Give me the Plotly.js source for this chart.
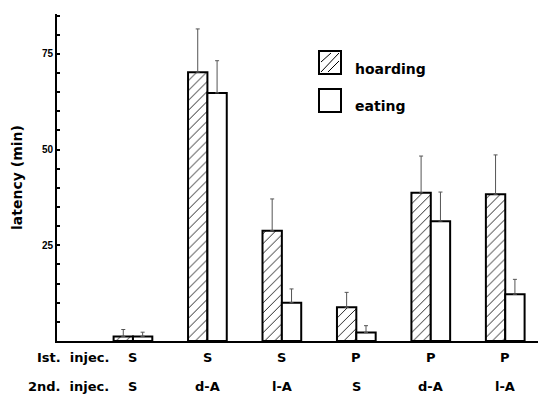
<!DOCTYPE html>
<html><head><meta charset="utf-8">
<script src="https://cdn.plot.ly/plotly-3.0.1.min.js"></script>
<style>html,body{margin:0;padding:0;background:#fff}#c{width:538px;height:397px}</style>
</head><body><div id="c"></div>
<script>
// ---- data ----
var firstInjection = ["S","S","S","P","P","P"];
var secondInjection = ["S","d-A","l-A","S","d-A","l-A"];
var hoarding = [1.2, 70.2, 28.8, 8.8, 38.7, 38.3];
var hoardingErr = [1.8, 11.3, 8.3, 3.9, 9.6, 10.3];
var eating = [1.2, 64.8, 10.0, 2.2, 31.3, 12.2];
var eatingErr = [1.1, 8.4, 3.6, 1.8, 7.6, 3.9];
var yTicks = [25, 50, 75];

var W = 538, H = 397, L = 57, R = 0, T = 14, B = 56;
function px(x){ return (x - L) / (W - L - R); }
function py(y){ return (H - B - y) / (H - T - B); }

var pos = firstInjection.map(function(_, i){ return i; });
var font = "Liberation Sans, Arial, sans-serif";
var wide = "DejaVu Sans, sans-serif";

var traces = [
  {type:'bar', name:'hoarding', x:pos, y:hoarding,
   marker:{color:'#fff', line:{color:'#000', width:2},
           pattern:{shape:'/', fgcolor:'#000', bgcolor:'#fff', size:7, solidity:0.12}},
   error_y:{type:'data', symmetric:false, array:hoardingErr, arrayminus:hoarding.map(function(){return 0;}),
            color:'#555', thickness:1, width:2}},
  {type:'bar', name:'eating', x:pos, y:eating,
   marker:{color:'#fff', line:{color:'#000', width:2}},
   error_y:{type:'data', symmetric:false, array:eatingErr, arrayminus:eating.map(function(){return 0;}),
            color:'#555', thickness:1, width:2}}
];

var shapes = [];
var annotations = [];
// legend boxes
var lx0 = 319, lx1 = 341;
var boxes = [[51,74],[89,112]];
boxes.forEach(function(b){
  shapes.push({type:'rect', xref:'paper', yref:'paper', x0:px(lx0), x1:px(lx1), y0:py(b[1]), y1:py(b[0]),
    line:{color:'#000', width:2}, fillcolor:'#fff'});
});
// hatch lines in first legend box
var hp = '';
[[lx0+2,62,lx0+12,53],[lx0+2,72,lx0+20,53],[lx0+9,72,lx0+20,61]].forEach(function(s){
  hp += 'M' + px(s[0]) + ',' + py(s[1]) + 'L' + px(s[2]) + ',' + py(s[3]);
});
shapes.push({type:'path', xref:'paper', yref:'paper', path:hp, line:{color:'#000', width:1}});

annotations.push({xref:'paper', yref:'paper', x:px(353), y:py(69), xanchor:'left', yanchor:'middle',
  text:'hoarding', showarrow:false, font:{family:wide, size:14, color:'#000', weight:'bold'}});
annotations.push({xref:'paper', yref:'paper', x:px(353), y:py(106), xanchor:'left', yanchor:'middle',
  text:'eating', showarrow:false, font:{family:wide, size:14, color:'#000', weight:'bold'}});

// category rows
var row1 = 357, row2 = 386;
annotations.push({xref:'paper', yref:'paper', x:px(111), y:py(row1), xanchor:'right', yanchor:'middle',
  text:'Ist.  injec.', showarrow:false, font:{family:wide, size:13, color:'#000', weight:'bold'}});
annotations.push({xref:'paper', yref:'paper', x:px(111), y:py(row2), xanchor:'right', yanchor:'middle',
  text:'2nd.  injec.', showarrow:false, font:{family:wide, size:13, color:'#000', weight:'bold'}});
pos.forEach(function(p, i){
  annotations.push({xref:'x', yref:'paper', x:p, y:py(row1), xanchor:'center', yanchor:'middle',
    text:firstInjection[i], showarrow:false, font:{family:wide, size:13, color:'#000', weight:'bold'}});
  annotations.push({xref:'x', yref:'paper', x:p, y:py(row2), xanchor:'center', yanchor:'middle',
    text:secondInjection[i], showarrow:false, font:{family:wide, size:13, color:'#000', weight:'bold'}});
});

var layout = {
  width:W, height:H, margin:{l:L, r:R, t:T, b:B},
  paper_bgcolor:'#fff', plot_bgcolor:'#fff',
  showlegend:false, barmode:'group', bargap:0.48, bargroupgap:0,
  xaxis:{range:[-1.02, 5.44], showline:true, linecolor:'#000', linewidth:2, showgrid:false,
         zeroline:false, showticklabels:false, ticks:''},
  yaxis:{range:[0, 85.4], showline:true, linecolor:'#000', linewidth:2, showgrid:false, zeroline:false,
         tickmode:'array', tickvals:yTicks, ticktext:yTicks.map(String), ticks:'inside', ticklen:3,
         tickwidth:2, tickcolor:'#000',
         minor:{dtick:5, tick0:0, ticks:'inside', ticklen:3, tickwidth:2, tickcolor:'#000'},
         tickfont:{family:font, size:10, color:'#000', weight:'bold'},
         title:{text:'latency (min)', standoff:16, font:{family:wide, size:14, color:'#000', weight:'bold'}},
         automargin:false},
  shapes:shapes, annotations:annotations
};
Plotly.newPlot('c', traces, layout, {displayModeBar:false, staticPlot:true});
</script></body></html>
